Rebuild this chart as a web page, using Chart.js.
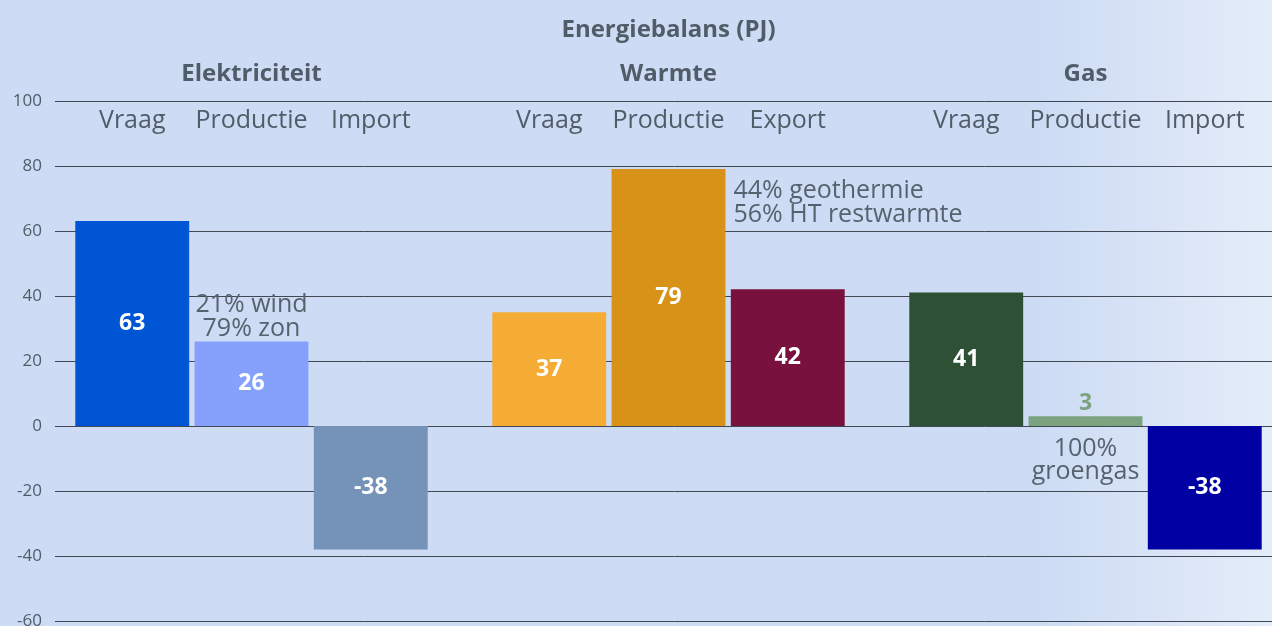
<!DOCTYPE html>
<html>
<head>
<meta charset="utf-8">
<script src="https://cdn.jsdelivr.net/npm/chart.js@4.4.1/dist/chart.umd.min.js"></script>
<style>
  html, body { margin: 0; padding: 0; overflow: hidden; width: 1272px; height: 626px; }
  body { background: linear-gradient(to right, #cddcf4 0%, #cddcf4 82%, #e4ecf9 100%); }
  #wrap { width: 1294px; height: 626px; }
</style>
</head>
<body>
<div id="wrap"><canvas id="chart"></canvas></div>
<script>
// Categorieën en reeksen
const groepen = ["Elektriciteit", "Warmte", "Gas"];
const subLabels = [
    ["Vraag", "Productie", "Import"],
    ["Vraag", "Productie", "Export"],
    ["Vraag", "Productie", "Import"]
];
const vraag = [63, 35, 41];
const productie = [26, 79, 3];
const handel = [-38, 42, -38];

// Getoonde labels (zoals in het origineel)
const vraagLabels = ["63", "37", "41"];
const productieLabels = ["26", "79", "3"];
const handelLabels = ["-38", "42", "-38"];

const yTicks = [-60, -40, -20, 0, 20, 40, 60, 80, 100];

// Kleuren
const vraagKleur = ["#0055d4", "#f5ac35", "#2e5035"];
const productieKleur = ["#85a1fc", "#d89218", "#7ba37f"];
const handelKleur = ["#7592b8", "#78113e", "#0000a3"];

const tekstKleur = "#505c68";
const fontFam = "'Open Sans', sans-serif";

// Toelichtingen bij bars
const notities = [
    { groep: 0, reeks: 1, regels: ["21% wind", "79% zon"], plek: "boven" },
    { groep: 1, reeks: 1, regels: ["44% geothermie", "56% HT restwarmte"], plek: "rechts" },
    { groep: 2, reeks: 1, regels: ["100%", "groengas"], plek: "onder" }
];

const allLabels = [vraagLabels, productieLabels, handelLabels];

// Plugin: rasterlijnen (starten iets rechts van de as)
const rasterPlugin = {
    id: "raster",
    beforeDatasetsDraw(chart) {
        const ctx = chart.ctx, y = chart.scales.y, area = chart.chartArea;
        ctx.save();
        ctx.strokeStyle = "#414854";
        ctx.lineWidth = 1;
        yTicks.forEach(v => {
            const py = Math.round(y.getPixelForValue(v)) + 0.5;
            ctx.beginPath();
            ctx.moveTo(area.left + 12, py);
            ctx.lineTo(area.right, py);
            ctx.stroke();
        });
        ctx.restore();
    }
};

// Plugin: waardes, sublabels en toelichting
const labelPlugin = {
    id: "labels",
    afterDatasetsDraw(chart) {
        const ctx = chart.ctx, area = chart.chartArea;
        ctx.save();
        ctx.textAlign = "center";
        ctx.textBaseline = "middle";
        chart.data.datasets.forEach((ds, di) => {
            const meta = chart.getDatasetMeta(di);
            meta.data.forEach((bar, gi) => {
                // sublabel bovenaan
                ctx.font = "25px " + fontFam;
                ctx.fillStyle = tekstKleur;
                ctx.fillText(subLabels[gi][di], bar.x, area.top + 20);
                // waarde
                const txt = allLabels[di][gi];
                ctx.font = "bold 23px " + fontFam;
                const hoogte = Math.abs(bar.base - bar.y);
                if (hoogte < 30) {
                    ctx.fillStyle = ds.backgroundColor[gi];
                    ctx.fillText(txt, bar.x, bar.y - 13);
                } else {
                    ctx.fillStyle = "#ffffff";
                    ctx.fillText(txt, bar.x, (bar.y + bar.base) / 2);
                }
            });
        });
        // toelichtingen
        ctx.font = "25px " + fontFam;
        ctx.fillStyle = "#56626e";
        notities.forEach(n => {
            const bar = chart.getDatasetMeta(n.reeks).data[n.groep];
            const half = bar.width / 2;
            if (n.plek === "boven") {
                ctx.textAlign = "center";
                ctx.fillText(n.regels[0], bar.x, bar.y - 37);
                ctx.fillText(n.regels[1], bar.x, bar.y - 13);
            } else if (n.plek === "rechts") {
                ctx.textAlign = "left";
                ctx.fillText(n.regels[0], bar.x + half + 8, bar.y + 22);
                ctx.fillText(n.regels[1], bar.x + half + 8, bar.y + 46);
            } else {
                ctx.textAlign = "center";
                ctx.fillText(n.regels[0], bar.x, bar.base + 23);
                ctx.fillText(n.regels[1], bar.x, bar.base + 46);
            }
        });
        ctx.restore();
    }
};

new Chart(document.getElementById("chart"), {
    type: "bar",
    data: {
        labels: groepen,
        datasets: [
            { label: "Vraag", data: vraag, backgroundColor: vraagKleur },
            { label: "Productie", data: productie, backgroundColor: productieKleur },
            { label: "Import/Export", data: handel, backgroundColor: handelKleur }
        ]
    },
    options: {
        responsive: true,
        maintainAspectRatio: false,
        animation: false,
        layout: { padding: { bottom: 5, right: 0 } },
        categoryPercentage: 0.858,
        barPercentage: 0.955,
        plugins: {
            legend: { display: false },
            tooltip: { enabled: false },
            title: {
                display: true,
                fullSize: false,
                text: "Energiebalans (PJ)",
                color: tekstKleur,
                font: { family: fontFam, size: 24, weight: "bold" },
                padding: { top: 16, bottom: 0 }
            }
        },
        scales: {
            x: {
                position: "top",
                grid: { display: false, drawTicks: false },
                border: { display: false },
                ticks: {
                    color: tekstKleur,
                    font: { family: fontFam, size: 24, weight: "bold" },
                    padding: 12
                },
                afterFit(scale) { scale.height = 56; }
            },
            y: {
                min: -60,
                max: 100,
                grid: { display: false, drawTicks: false },
                border: { display: false },
                afterBuildTicks(scale) { scale.ticks = yTicks.map(v => ({ value: v })); },
                ticks: {
                    color: tekstKleur,
                    font: { family: fontFam, size: 17 },
                    padding: 1
                },
                afterFit(scale) {
                    scale.width = 43;
                    scale.paddingTop = 0;
                    scale.paddingBottom = 0;
                }
            }
        }
    },
    plugins: [rasterPlugin, labelPlugin]
});
</script>
</body>
</html>
